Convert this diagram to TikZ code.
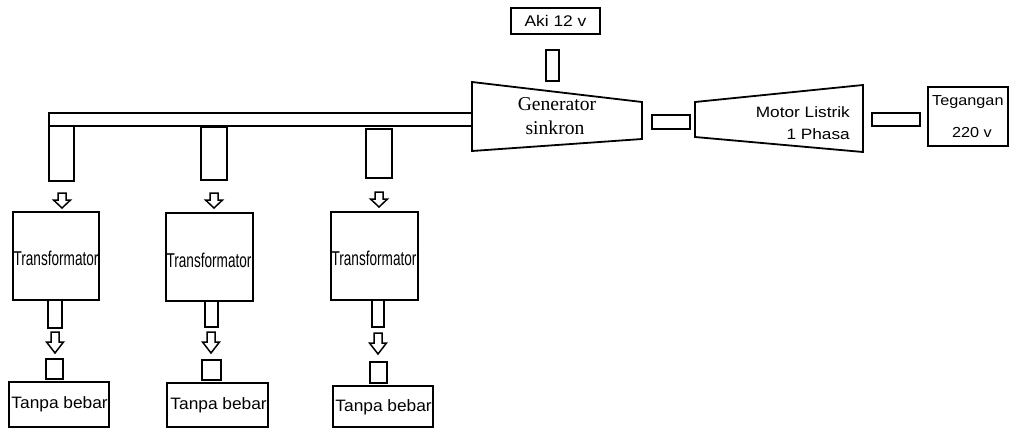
\documentclass[tikz,border=0pt]{standalone}
\usepackage{graphicx}
\usepackage{fontspec}
\setmainfont{Liberation Serif}
\setsansfont{Liberation Sans}
\newcommand\rbox[5]{\node[bx, minimum width={#4-#2}, minimum height={#5-#3}] (#1) at ({(#2+#4)/2},{(#3+#5)/2}) {};}
\newcommand\sxs[2]{\scalebox{#1}[1]{#2}}
\tikzset{
  bx/.style={draw, line width=1.8pt, rectangle, inner sep=0pt, outer sep=0pt},
  lbl/.style={inner sep=0pt, font=\sffamily},
  pics/harr/.style 2 args={code={
    \draw[line width=1.5pt, line join=miter] (-4,0) -- (-4,#1) -- (-8.5,#1) -- (0,#1+#2) -- (8.5,#1) -- (4,#1) -- (4,0) -- cycle;}}
}
\begin{document}
\begin{tikzpicture}[x=1pt,y=-1pt]
\useasboundingbox (0,0) rectangle (1010,429);
% top chain
\rbox{aki}{511}{8}{600}{34}
\node[lbl, font=\sffamily\fontsize{15.4}{16}\selectfont] (akit) at (aki.center) {\sxs{1.13}{Aki 12 v}};
\rbox{akic}{546}{50}{559}{81}
\coordinate (g1) at (472,82); \coordinate (g2) at (642,102);
\coordinate (g3) at (642,139); \coordinate (g4) at (472,151);
\draw[line width=1.8pt, line join=miter] (g1) -- (g2) -- (g3) -- (g4) -- cycle;
\node[inner sep=0pt, font=\rmfamily\fontsize{19.6}{20}\selectfont] (gen1) at (557,104) {Generator};
\node[inner sep=0pt, font=\rmfamily\fontsize{19.6}{20}\selectfont] (gen2) at (555,128) {sinkron};
\rbox{gm}{652}{115}{690}{129}
\coordinate (m1) at (695,102); \coordinate (m2) at (863,85);
\coordinate (m3) at (863,152); \coordinate (m4) at (695,137);
\draw[line width=1.8pt, line join=miter] (m1) -- (m2) -- (m3) -- (m4) -- cycle;
\node[lbl, anchor=east, font=\sffamily\fontsize{15}{16}\selectfont] (mot1) at (850,112) {\sxs{1.15}{Motor Listrik}};
\node[lbl, anchor=east, font=\sffamily\fontsize{15}{16}\selectfont] (mot2) at (850,134) {\sxs{1.15}{1 Phasa}};
\rbox{mt}{872}{113}{920}{126}
\rbox{teg}{928}{87}{1008}{146}
\node[lbl, anchor=west, font=\sffamily\fontsize{14.5}{15}\selectfont] (teg1) at (932,102) {\sxs{1.12}{Tegangan}};
\node[lbl, font=\sffamily\fontsize{14.5}{15}\selectfont] (teg2) at (972,133) {\sxs{1.12}{220 v}};
% bus
\rbox{bus}{49}{113}{472}{126}
% column 1
\rbox{v1}{49}{126}{74}{181}
\pic at (62,193) {harr={7}{8}};
\rbox{t1}{13}{212}{99}{300}
\node[lbl, font=\sffamily\fontsize{20}{21}\selectfont] (t1t) at (56,258) {\sxs{0.68}{Transformator}};
\rbox{s1}{48}{300}{62}{328}
\pic at (55,332) {harr={10}{11}};
\rbox{q1}{46}{359}{63}{379}
\rbox{b1}{9}{382}{109}{427}
\node[lbl, anchor=east, font=\sffamily\fontsize{16.5}{17}\selectfont] (b1t) at (108,404) {\sxs{1.05}{Tanpa bebar}};
% column 2
\rbox{v2}{201}{127}{227}{180}
\pic at (214,193) {harr={7}{8}};
\rbox{t2}{166}{213}{253}{301}
\node[lbl, font=\sffamily\fontsize{20}{21}\selectfont] (t2t) at (209,260) {\sxs{0.68}{Transformator}};
\rbox{s2}{205}{301}{218}{327}
\pic at (211,332) {harr={10}{11}};
\rbox{q2}{202}{360}{221}{380}
\rbox{b2}{167}{383}{268}{427}
\node[lbl, anchor=east, font=\sffamily\fontsize{16.5}{17}\selectfont] (b2t) at (267,405) {\sxs{1.05}{Tanpa bebar}};
% column 3
\rbox{v3}{366}{129}{392}{178}
\pic at (379,192) {harr={7}{8}};
\rbox{t3}{331}{212}{418}{300}
\node[lbl, font=\sffamily\fontsize{20}{21}\selectfont] (t3t) at (374,258) {\sxs{0.68}{Transformator}};
\rbox{s3}{372}{300}{384}{327}
\pic at (378,333) {harr={10}{11}};
\rbox{q3}{370}{362}{387}{383}
\rbox{b3}{333}{386}{433}{427}
\node[lbl, anchor=east, font=\sffamily\fontsize{16.5}{17}\selectfont] (b3t) at (432,407) {\sxs{1.05}{Tanpa bebar}};
\end{tikzpicture}
\end{document}
